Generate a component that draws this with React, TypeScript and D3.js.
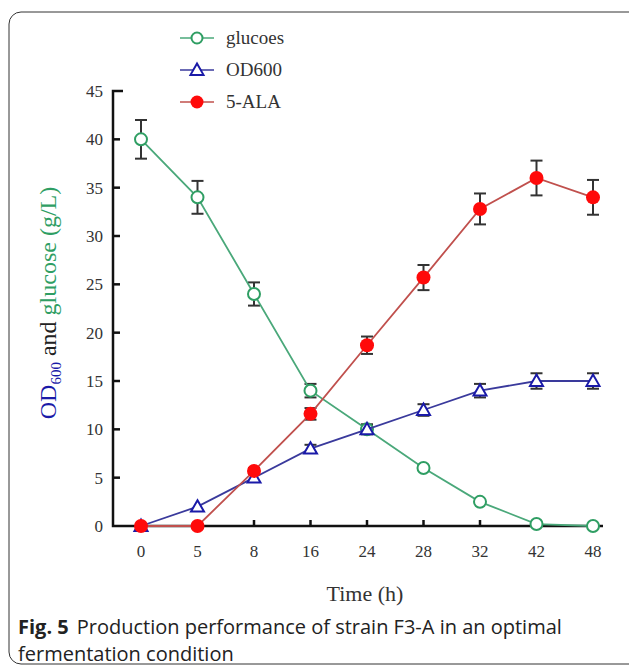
import React from 'react';
import * as d3 from 'd3';

const times = ['0', '5', '8', '16', '24', '28', '32', '42', '48'];
const glucose = [40, 34, 24, 14, 10, 6, 2.5, 0.2, 0];
const glucoseErr = [2, 1.7, 1.2, 0.7, 0.5, 0, 0, 0, 0];
const od600 = [0, 2, 5, 8, 10, 12, 14, 15, 15];
const odErr = [0, 0, 0, 0.4, 0.5, 0.6, 0.7, 0.8, 0.8];
const ala = [0, 0, 5.7, 11.6, 18.7, 25.7, 32.8, 36, 34];
const alaErr = [0, 0, 0.3, 0.6, 0.9, 1.3, 1.6, 1.8, 1.8];
const yTicks = [0, 5, 10, 15, 20, 25, 30, 35, 40, 45];

const W = 629;
const H = 670;
const serif = '"Liberation Serif", "Times New Roman", serif';
const sans = '"Open Sans", "Noto Sans", sans-serif';

const green = '#2f9e63';
const greenLine = '#4aa87a';
const blue = '#1a1aa8';
const blueLine = '#3a3a9c';
const red = '#ff0a0a';
const redLine = '#c0504d';

export default function App() {
  const x = d3.scalePoint<string>().domain(times).range([141, 593]);
  const y = d3.scaleLinear().domain([0, 45]).range([526, 91]);
  const line = d3
    .line<number>()
    .x((_, i) => x(times[i]) as number)
    .y((d) => y(d));

  // error bars sit under the markers
  const errBars = (vals: number[], errs: number[], key: string) =>
    vals.map((v, i) =>
      errs[i] > 0 ? (
        <g key={key + i} stroke="#333" strokeWidth={2}>
          <line x1={x(times[i])} x2={x(times[i])} y1={y(v + errs[i])} y2={y(v - errs[i])} />
          <line x1={(x(times[i]) as number) - 6} x2={(x(times[i]) as number) + 6} y1={y(v + errs[i])} y2={y(v + errs[i])} />
          <line x1={(x(times[i]) as number) - 6} x2={(x(times[i]) as number) + 6} y1={y(v - errs[i])} y2={y(v - errs[i])} />
        </g>
      ) : null
    );

  const tri = (cx: number, cy: number) => {
    const s = 6.5;
    return `M${cx},${cy - s}L${cx + s},${cy + s * 0.75}L${cx - s},${cy + s * 0.75}Z`;
  };

  const legend = [
    { label: 'glucoes', color: greenLine, kind: 'circle' },
    { label: 'OD600', color: blueLine, kind: 'tri' },
    { label: '5-ALA', color: redLine, kind: 'dot' },
  ];

  return (
    <svg width={W} height={H} style={{ position: 'absolute', left: 0, top: 0 }}>
      <rect x={0} y={0} width={W} height={H} fill="#fff" />
      <rect x={9} y={12} width={636} height={652} rx={12} fill="none" stroke="#333" strokeWidth={1} />

      {/* legend */}
      {legend.map((l, i) => {
        const ly = 38 + i * 32;
        return (
          <g key={l.label}>
            <line x1={180} x2={214} y1={ly} y2={ly} stroke={l.color} strokeWidth={1.5} />
            {l.kind === 'circle' && <circle cx={197} cy={ly} r={5.5} fill="#fff" stroke={green} strokeWidth={2} />}
            {l.kind === 'tri' && <path d={tri(197, ly)} fill="#fff" stroke={blue} strokeWidth={2} />}
            {l.kind === 'dot' && <circle cx={197} cy={ly} r={6.5} fill={red} />}
            <text x={226} y={ly + 6} fontFamily={serif} fontSize={19} fill="#333">
              {l.label}
            </text>
          </g>
        );
      })}

      {/* axes */}
      <g stroke="#111" strokeWidth={2.5} fill="none">
        <path d={`M123,${y(45)}H113V${y(0)}H603`} />
        {yTicks.slice(1, -1).map((t) => (
          <line key={'yt' + t} x1={113} x2={120} y1={y(t)} y2={y(t)} />
        ))}
        {times.slice(1, -1).map((t) => (
          <line key={'xt' + t} x1={x(t)} x2={x(t)} y1={y(0)} y2={y(0) - 6} />
        ))}
      </g>
      {yTicks.map((t) => (
        <text key={'yl' + t} x={103} y={y(t) + 6} textAnchor="end" fontFamily={serif} fontSize={17} fill="#333">
          {t}
        </text>
      ))}
      {times.map((t) => (
        <text key={'xl' + t} x={x(t)} y={557} textAnchor="middle" fontFamily={serif} fontSize={17} fill="#333">
          {t}
        </text>
      ))}

      <text x={365} y={601} textAnchor="middle" fontFamily={serif} fontSize={22} fill="#333">
        Time (h)
      </text>
      <text transform="translate(56,303) rotate(-90)" textAnchor="middle" fontFamily={serif} fontSize={24}>
        <tspan fill={blue}>OD</tspan>
        <tspan fill={blue} fontSize={15} dy={5}>600</tspan>
        <tspan fill="#222" dy={-5}> and </tspan>
        <tspan fill={green}>glucose (g/L)</tspan>
      </text>

      {/* series */}
      {errBars(glucose, glucoseErr, 'ge')}
      {errBars(od600, odErr, 'oe')}
      {errBars(ala, alaErr, 'ae')}

      <path d={line(glucose) as string} fill="none" stroke={greenLine} strokeWidth={1.8} />
      {glucose.map((v, i) => (
        <circle key={'g' + i} cx={x(times[i])} cy={y(v)} r={6} fill="#fff" stroke={green} strokeWidth={2} />
      ))}
      <path d={line(od600) as string} fill="none" stroke={blueLine} strokeWidth={1.8} />
      {od600.map((v, i) => (
        <path key={'o' + i} d={tri(x(times[i]) as number, y(v))} fill="#fff" stroke={blue} strokeWidth={2} />
      ))}
      <path d={line(ala) as string} fill="none" stroke={redLine} strokeWidth={1.8} />
      {ala.map((v, i) => (
        <circle key={'a' + i} cx={x(times[i])} cy={y(v)} r={7} fill={red} />
      ))}

      {/* caption */}
      <text x={18} y={634} fontFamily={sans} fontSize={20} fill="#222">
        <tspan fontWeight="bold">Fig. 5</tspan>
        <tspan dx={8}>Production performance of strain F3-A in an optimal</tspan>
      </text>
      <text x={18} y={661} fontFamily={sans} fontSize={20} fill="#222">
        fermentation condition
      </text>
    </svg>
  );
}
